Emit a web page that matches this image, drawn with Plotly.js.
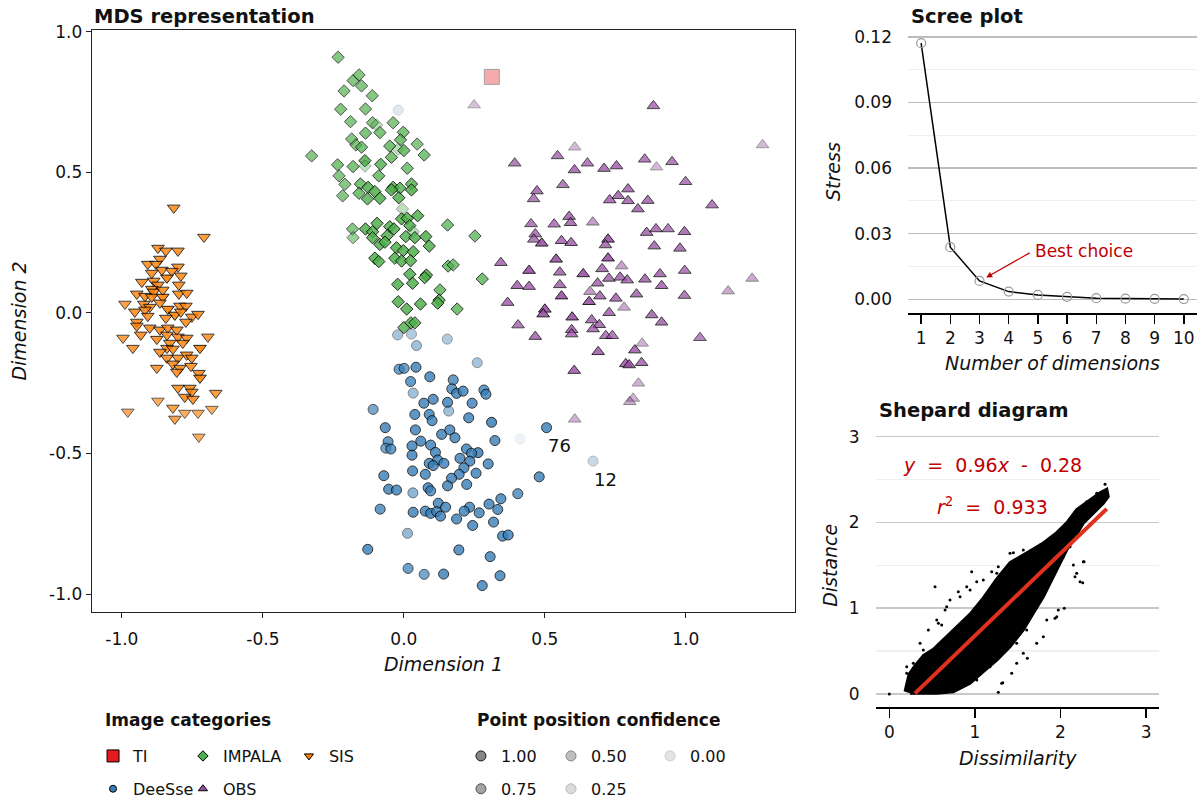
<!DOCTYPE html>
<html><head><meta charset="utf-8">
<script src="https://cdn.plot.ly/plotly-3.0.1.min.js"></script>
<style>html,body{margin:0;padding:0;background:#fff}#chart{width:1202px;height:804px}</style>
</head><body><div id="chart"></div>
<script>
// ---------- MDS representation data ----------
const categories = ['TI','DeeSse','IMPALA','OBS','SIS'];
const confLevels = [1.00, 0.75, 0.50, 0.25, 0.00];

const tiX = [0.312];
const tiY = [0.840];
const tiConf = [0.35];

const sisX = [-0.816,-0.709,-0.872,-0.844,-0.801,-0.865,-0.908,-0.879,-0.801,-0.858,
-0.823,-0.894,-0.791,-0.840,-0.929,-0.887,-0.872,-0.798,-0.894,-0.887,
-0.855,-0.798,-0.770,-0.947,-0.918,-0.894,-0.855,-0.989,-0.922,-0.901,
-0.865,-0.837,-0.794,-0.773,-0.954,-0.918,-0.812,-0.791,-0.752,-0.730,
-0.908,-0.844,-0.947,-0.947,-0.773,-0.901,-0.865,-0.837,-0.805,-0.996,
-0.933,-0.876,-0.840,-0.801,-0.770,-0.695,-0.830,-0.784,-0.961,-0.840,
-0.819,-0.723,-0.865,-0.840,-0.801,-0.770,-0.752,-0.819,-0.876,-0.794,
-0.755,-0.805,-0.727,-0.723,-0.801,-0.759,-0.752,-0.777,-0.748,-0.667,
-0.872,-0.819,-0.777,-0.730,-0.681,-0.979,-0.812,-0.727];
const sisY = [0.374,0.270,0.231,0.221,0.221,0.192,0.174,0.174,0.164,0.153,
0.149,0.142,0.132,0.125,0.110,0.114,0.100,0.100,0.085,0.075,
0.082,0.068,0.071,0.068,0.060,0.057,0.057,0.032,0.032,0.021,
0.036,0.014,0.025,0.025,0.004,0.011,-0.007,0.004,-0.014,-0.004,
-0.011,-0.018,-0.032,-0.046,-0.032,-0.053,-0.060,-0.053,-0.060,-0.089,
-0.078,-0.093,-0.078,-0.085,-0.089,-0.085,-0.107,-0.107,-0.125,-0.125,
-0.128,-0.125,-0.139,-0.160,-0.160,-0.149,-0.160,-0.181,-0.196,-0.196,
-0.189,-0.210,-0.214,-0.231,-0.267,-0.267,-0.281,-0.299,-0.306,-0.285,
-0.313,-0.338,-0.356,-0.356,-0.342,-0.352,-0.377,-0.441];
const sisConf = [0.9,0.85,0.9,0.9,0.9,0.9,0.9,0.9,0.9,0.9,
0.9,0.9,0.9,1,0.9,0.9,0.9,0.9,0.9,0.9,
0.9,0.9,0.9,0.9,0.9,0.9,1,0.8,0.9,0.9,
0.9,1,0.9,0.9,0.9,0.9,1,0.9,0.9,0.9,
0.9,0.9,0.9,0.9,0.9,0.9,0.9,0.9,0.9,0.8,
0.9,0.9,0.9,0.9,0.9,0.85,0.9,0.9,0.85,0.9,
0.9,1,0.9,0.9,0.9,0.9,0.9,0.9,0.85,0.9,
0.9,0.9,0.9,1,0.9,0.9,0.9,0.9,0.9,0.85,
0.7,0.8,0.7,0.7,0.7,0.7,0.8,0.7];

const impalaX = [-0.233,-0.180,-0.159,-0.150,-0.212,-0.112,-0.224,-0.136,-0.189,-0.111,
-0.097,-0.038,-0.136,-0.085,-0.002,-0.185,-0.170,-0.150,-0.050,-0.012,
-0.020,0.000,0.047,0.072,-0.044,-0.327,-0.235,-0.180,-0.138,-0.138,
-0.082,0.012,-0.230,-0.089,-0.209,-0.154,-0.127,-0.038,-0.014,0.027,
-0.217,-0.159,-0.129,-0.103,-0.085,-0.044,-0.018,0.027,
-0.005,0.049,-0.008,0.012,0.021,0.155,-0.095,-0.182,-0.180,-0.136,
-0.111,-0.050,-0.035,0.033,0.007,0.039,0.078,0.090,-0.111,-0.059,
-0.085,-0.067,-0.026,-0.002,0.033,-0.032,-0.008,0.024,-0.103,-0.089,
0.157,0.175,0.021,0.080,0.074,-0.022,0.031,0.128,-0.020,0.010,
0.059,0.125,0.120,0.189,0.000,0.025,0.039,0.252,0.278];
const impalaY = [0.910,0.827,0.847,0.808,0.790,0.773,0.725,0.726,0.681,0.677,
0.669,0.677,0.640,0.642,0.643,0.619,0.598,0.590,0.594,0.616,
0.583,0.578,0.601,0.562,0.554,0.559,0.527,0.521,0.542,0.523,
0.529,0.515,0.488,0.488,0.458,0.459,0.447,0.447,0.444,0.459,
0.417,0.426,0.406,0.432,0.408,0.438,0.410,0.438,
0.370,0.346,0.335,0.337,0.311,0.313,0.319,0.299,0.268,0.299,
0.289,0.307,0.299,0.289,0.272,0.268,0.272,0.238,0.268,0.275,
0.244,0.252,0.232,0.222,0.218,0.195,0.185,0.186,0.195,0.183,
0.167,0.171,0.138,0.135,0.126,0.102,0.106,0.082,0.040,0.014,
0.032,0.046,0.035,0.014,-0.052,-0.035,-0.035,0.274,0.121];
const impalaConf = [0.75,0.75,0.75,0.75,0.75,0.75,0.75,0.75,0.75,0.75,
0.35,0.75,0.8,0.8,0.8,0.75,0.75,0.8,0.85,0.85,
0.35,0.85,0.75,0.8,0.85,0.75,0.8,0.8,0.95,0.35,
0.9,0.8,0.75,0.85,0.75,0.85,0.95,0.9,0.9,0.9,
0.75,0.85,0.9,0.95,0.95,0.95,0.95,0.95,
0.35,0.95,0.95,0.95,0.95,0.8,0.95,0.75,0.6,0.95,
0.95,0.95,0.95,0.4,0.9,0.95,0.95,0.95,0.95,0.95,
0.95,0.95,0.95,0.95,0.95,0.95,0.95,0.95,0.95,0.95,
0.85,0.8,0.95,0.95,0.95,0.95,0.95,0.85,0.95,0.95,
0.95,0.95,0.95,0.85,0.9,0.9,0.9,0.8,0.85];

const obsX = [0.249,0.885,1.272,0.606,0.545,0.393,0.605,0.651,0.710,0.754,
0.854,0.896,0.951,0.999,0.564,0.472,0.460,0.795,0.760,0.730,
0.795,0.865,0.830,1.093,0.451,0.533,0.586,0.591,0.670,0.466,
0.461,0.489,0.559,0.593,0.724,0.715,0.861,0.894,0.937,0.995,
0.888,0.979,0.344,0.444,0.540,0.553,0.636,0.724,0.703,0.772,
0.727,0.767,0.792,0.855,0.908,0.914,0.996,1.235,1.150,0.402,
0.444,0.553,0.687,0.660,0.695,0.752,0.825,0.995,0.368,0.559,
0.657,0.781,0.500,0.494,0.597,0.666,0.693,0.728,0.879,0.914,
0.405,0.466,0.595,0.595,0.671,0.716,0.739,1.050,0.689,0.819,
0.845,0.604,0.787,0.799,0.843,0.832,0.813,0.801,0.606];
const obsY = [0.740,0.737,0.598,0.590,0.559,0.533,0.509,0.533,0.514,0.523,
0.547,0.519,0.538,0.467,0.456,0.434,0.406,0.441,0.417,0.402,
0.399,0.400,0.370,0.384,0.317,0.316,0.343,0.321,0.323,0.281,
0.262,0.248,0.257,0.250,0.262,0.242,0.286,0.299,0.299,0.289,
0.238,0.230,0.179,0.151,0.191,0.145,0.139,0.195,0.157,0.167,
0.123,0.127,0.117,0.120,0.139,0.097,0.151,0.123,0.078,0.097,
0.094,0.100,0.106,0.076,0.060,0.052,0.067,0.062,0.037,0.060,
0.040,0.020,0.013,-0.004,-0.015,-0.025,-0.042,0.001,-0.007,-0.033,
-0.043,-0.084,-0.060,-0.075,-0.057,-0.081,-0.081,-0.088,-0.138,-0.132,
-0.108,-0.205,-0.181,-0.185,-0.177,-0.250,-0.304,-0.316,-0.378];
const obsConf = [0.35,0.8,0.4,0.4,0.8,0.8,0.85,0.8,0.85,0.85,
0.8,0.4,0.8,0.8,0.8,0.85,0.8,0.85,0.85,0.85,
0.85,0.85,0.85,0.8,0.8,0.8,0.85,0.85,0.6,0.8,
0.8,1,0.85,0.85,1,0.85,0.85,0.85,0.8,0.85,
0.85,0.85,0.85,1,1,0.85,1,1,0.85,0.55,
0.85,0.85,0.85,0.85,0.85,0.85,0.8,0.5,0.5,0.85,
0.85,0.85,0.85,0.6,0.85,0.85,0.85,0.8,0.85,1,
1,0.5,1,1,1,0.85,0.85,0.85,0.85,0.85,
0.8,0.85,0.85,0.85,0.85,0.8,0.8,0.75,0.9,0.9,
0.45,0.9,0.9,0.9,0.85,0.45,0.45,0.5,0.45];

const deesseX = [-0.022,0.027,0.045,0.154,0.260,-0.017,0.001,0.043,0.092,0.024,
0.175,0.170,0.187,0.210,0.284,0.291,0.033,0.104,0.071,0.155,
0.242,-0.109,0.039,0.090,0.100,0.159,0.230,0.311,0.506,-0.066,
0.041,0.134,0.163,0.181,-0.056,-0.064,-0.046,0.029,0.060,0.095,
0.112,0.222,0.263,0.240,0.323,0.412,0.029,0.120,0.142,0.199,
0.234,0.090,0.104,0.213,0.299,0.671,0.031,0.076,0.196,0.256,
0.169,0.480,-0.071,0.155,0.223,0.086,0.095,-0.054,-0.026,0.032,
0.404,0.344,0.302,0.122,0.148,0.233,0.333,-0.084,0.033,0.076,
0.095,0.116,0.130,0.214,0.267,0.187,0.244,0.318,0.350,0.370,
0.013,-0.128,0.195,0.306,0.015,0.072,0.141,0.341,0.278,-0.020];
const deesseY = [-0.078,-0.075,-0.116,-0.093,-0.177,-0.200,-0.197,-0.193,-0.227,-0.244,
-0.238,-0.270,-0.286,-0.278,-0.274,-0.289,-0.285,-0.307,-0.321,-0.318,
-0.321,-0.343,-0.361,-0.361,-0.383,-0.349,-0.373,-0.389,-0.408,-0.408,
-0.416,-0.432,-0.416,-0.444,-0.458,-0.481,-0.484,-0.473,-0.456,-0.470,
-0.496,-0.484,-0.497,-0.499,-0.454,-0.449,-0.506,-0.523,-0.535,-0.517,
-0.527,-0.535,-0.543,-0.551,-0.537,-0.527,-0.562,-0.574,-0.574,-0.570,
-0.588,-0.583,-0.579,-0.615,-0.610,-0.622,-0.633,-0.627,-0.630,-0.640,
-0.643,-0.661,-0.680,-0.677,-0.691,-0.691,-0.699,-0.698,-0.709,-0.705,
-0.713,-0.707,-0.723,-0.705,-0.711,-0.733,-0.756,-0.744,-0.794,-0.790,
-0.784,-0.841,-0.843,-0.867,-0.909,-0.930,-0.929,-0.935,-0.970,0.722];
const deesseConf = [0.45,0.4,0.5,0.4,0.45,0.8,0.8,0.9,0.9,0.85,
0.85,0.85,0.9,0.9,0.85,0.9,0.5,0.9,0.9,0.9,
0.9,0.75,0.9,0.9,0.9,0.5,0.9,0.95,0.9,0.9,
0.9,0.9,0.9,0.9,0.85,0.75,0.85,0.9,0.9,0.9,
0.9,0.9,0.95,0.9,0.9,0,0.9,0.9,0.9,0.9,
0.9,0.9,0.9,0.9,0.9,0.25,0.9,0.9,0.9,0.9,
0.9,0.9,0.9,0.9,0.9,0.9,0.85,0.9,0.9,0.6,
0.85,0.9,0.9,0.9,0.9,0.9,0.9,0.85,0.9,0.9,
0.9,0.9,0.9,0.9,0.9,0.9,0.9,0.9,0.9,0.9,
0.55,0.9,0.9,0.9,0.8,0.75,0.9,0.9,0.9,0.1];

const pointLabels = ['76','12'];
const pointLabelX = [0.553, 0.716];
const pointLabelY = [-0.473, -0.591];

// ---------- Scree plot data ----------
const dims = [1,2,3,4,5,6,7,8,9,10];
const stress = [0.1171,0.0238,0.0084,0.0035,0.0020,0.0011,0.0005,0.0003,0.0002,0.0001];
const bestDim = 3;
const stressTicks = [0,0.03,0.06,0.09,0.12];

// ---------- Shepard diagram data ----------
// outline of the dense point cloud (dissimilarity, distance)
const cloudX = [0.183,0.230,0.300,0.400,0.514,0.631,0.787,0.943,1.098,1.255,1.410,1.605,1.799,1.956,2.072,2.189,2.345,2.461,2.540,
2.558,2.500,2.383,2.266,2.150,2.072,1.994,1.916,1.799,1.682,1.565,1.410,1.255,1.098,0.943,0.748,0.554,0.242];
const cloudY = [0.027,0.230,0.330,0.450,0.520,0.630,0.780,0.930,1.120,1.340,1.530,1.650,1.760,1.880,1.995,2.150,2.265,2.345,2.385,
2.300,2.223,2.106,1.990,1.795,1.678,1.523,1.367,1.134,0.941,0.746,0.551,0.396,0.260,0.125,0.027,0.008,0.008];
// scattered pairs outside the dense cloud
const outX = [0,0.534,0.962,0.709,0.670,0.573,1.273,1.325,1.430,1.612,1.839,1.956,2.044,2.259,2.275,2.189,2.150,2.520,1.410,1.255,1.098,0.943,0.826,1.605,1.488,1.176,1.021,2.033,2.111,0.359,0.456,0.203,2.169,
0.554,0.612,0.651,0.806,0.904,1.021,1.196,1.273,1.449,1.565,1.761,1.877,2.033,2.306,2.423,
1.313,1.488,1.565,1.722,1.799,1.936,1.974,2.228,2.266,0.203,0.280,0.397,0.437];
const outY = [0,1.251,1.426,1.096,1.018,0.824,0.020,0.132,0.241,0.416,0.862,0.901,0.999,1.297,1.542,1.407,1.503,2.444,1.640,1.407,1.329,1.212,1.134,0.746,0.591,0.318,0.163,1.600,1.717,0.591,0.746,0.318,1.367,
0.862,0.804,0.979,1.192,1.251,1.309,1.425,1.484,1.647,1.678,1.737,1.795,1.911,2.241,2.339,
0.125,0.358,0.474,0.591,0.668,0.882,0.979,1.309,1.542,0.241,0.358,0.513,0.435];
const fitX = [0.30, 2.54];
const fitY = [0.008, 2.158];
const eqText = ['<i>y</i>\u00a0\u00a0=\u00a0\u00a00.96<i>x</i>\u00a0\u00a0-\u00a0\u00a00.28', '<i>r</i><sup>2</sup>\u00a0\u00a0=\u00a0\u00a00.933'];
const eqX = [1.21, 1.20];
const eqY = [2.67, 2.19];

// ---------- styling ----------
const FONT = 'DejaVu Sans, sans-serif';
const RED = '#C00000';
const colors = {TI:'#E41A1C', DeeSse:'#377EB8', IMPALA:'#4DAF4A', OBS:'#984EA3', SIS:'#FF7F00'};
const symbols = {TI:'square', DeeSse:'circle', IMPALA:'diamond', OBS:'triangle-up', SIS:'triangle-down'};
const sizes = {TI:15, DeeSse:10, IMPALA:9.5, OBS:11, SIS:11};
const legSizes = {TI:12, DeeSse:7, IMPALA:8, OBS:8, SIS:8};
const alpha = c => c.map(v => 0.08 + 0.8 * v);

const series = {
  SIS:[sisX, sisY, sisConf],
  IMPALA:[impalaX, impalaY, impalaConf],
  OBS:[obsX, obsY, obsConf],
  DeeSse:[deesseX, deesseY, deesseConf],
  TI:[tiX, tiY, tiConf]
};

const traces = [];
['SIS','IMPALA','OBS','DeeSse','TI'].forEach(k => {
  const [x, y, c] = series[k];
  traces.push({type:'scatter', mode:'markers', x, y, xaxis:'x', yaxis:'y', showlegend:false, hoverinfo:'skip',
    marker:{symbol:symbols[k], size:sizes[k], color:colors[k], opacity:alpha(c), line:{color:'#000', width:1}}});
});

// legend entries: image categories (3 columns, 2 rows, column-major)
const catLegends = ['legend','legend','legend2','legend2','legend3'];
categories.forEach((k, i) => {
  traces.push({type:'scatter', mode:'markers', x:[null], y:[null], xaxis:'x', yaxis:'y', name:k,
    legend:catLegends[i], legendgroup:'c'+i, showlegend:true,
    marker:{symbol:symbols[k], size:legSizes[k], color:colors[k], line:{color:'#000', width:1}}});
});
// legend entries: point position confidence
const confLegends = ['legend4','legend4','legend5','legend5','legend6'];
confLevels.forEach((v, i) => {
  traces.push({type:'scatter', mode:'markers', x:[null], y:[null], xaxis:'x', yaxis:'y', name:v.toFixed(2),
    legend:confLegends[i], legendgroup:'p'+i, showlegend:true,
    marker:{symbol:'circle', size:10, color:'#7a7a7a', opacity:0.06 + 0.84*v, line:{color:'#000', width:1}}});
});

// scree plot
traces.push({type:'scatter', mode:'lines+markers', x:dims, y:stress, xaxis:'x2', yaxis:'y2', showlegend:false, hoverinfo:'skip',
  line:{color:'#000', width:1.5}, marker:{symbol:'circle-open', size:9, color:'#9a9a9a', line:{width:1.2}}});

// shepard diagram
traces.push({type:'scatter', mode:'lines', x:cloudX, y:cloudY, xaxis:'x3', yaxis:'y3', showlegend:false, hoverinfo:'skip',
  fill:'toself', fillcolor:'#000', line:{color:'#000', width:3}});
traces.push({type:'scatter', mode:'markers', x:outX, y:outY, xaxis:'x3', yaxis:'y3', showlegend:false, hoverinfo:'skip',
  marker:{color:'#000', size:3}});
traces.push({type:'scatter', mode:'lines', x:fitX, y:fitY, xaxis:'x3', yaxis:'y3', showlegend:false, hoverinfo:'skip',
  line:{color:'#E0301E', width:4}});

const tickFont = {family:FONT, size:17, color:'#111'};
const axTitleFont = {family:FONT, size:19, color:'#111', style:'italic'};
const mainTicks = [-1, -0.5, 0, 0.5, 1];
const mainTickText = ['-1.0','-0.5','0.0','0.5','1.0'];

function legendBox(x) {
  return {x:x, y:0.0808, xanchor:'left', yanchor:'top', orientation:'v', bgcolor:'rgba(0,0,0,0)',
    borderwidth:0, itemwidth:30, tracegroupgap:9, traceorder:'grouped', itemclick:false, itemdoubleclick:false,
    font:{family:FONT, size:16, color:'#111'}};
}

const titleFont = {family:FONT, size:19.5, color:'#111', weight:'bold'};
const legTitleFont = {family:FONT, size:17, color:'#111', weight:'bold'};

const layout = {
  width:1202, height:804, margin:{l:0, r:0, t:0, b:0, autoexpand:false},
  paper_bgcolor:'#fff', plot_bgcolor:'#fff', hovermode:false,
  font:{family:FONT, color:'#111'},
  xaxis:{domain:[0.0765,0.6614], range:[-1.106,1.387], anchor:'y', tickmode:'array', tickvals:mainTicks, ticktext:mainTickText,
    ticks:'outside', ticklen:5, tickcolor:'#222', showline:true, mirror:true, linecolor:'#222', linewidth:1.3,
    showgrid:false, zeroline:false, tickfont:tickFont, ticklabelstandoff:6, title:{text:'Dimension 1', font:axTitleFont, standoff:10}},
  yaxis:{domain:[0.2388,0.9627], range:[-1.064,1.007], anchor:'x', tickmode:'array', tickvals:mainTicks, ticktext:mainTickText,
    ticks:'outside', ticklen:5, tickcolor:'#222', showline:true, mirror:true, linecolor:'#222', linewidth:1.3,
    showgrid:false, zeroline:false, tickfont:tickFont, title:{text:'Dimension 2', font:axTitleFont, standoff:17}},
  xaxis2:{domain:[0.7554,0.9958], range:[0.55,10.45], anchor:'y2', tickmode:'array', tickvals:dims,
    ticks:'outside', ticklen:9, tickwidth:1.5, tickcolor:'#000', showline:true, linecolor:'#000', linewidth:2,
    showgrid:false, zeroline:false, tickfont:tickFont, title:{text:'Number of dimensions', font:axTitleFont, standoff:10}},
  yaxis2:{domain:[0.6111,0.9621], range:[-0.00613,0.1229], anchor:'x2', tickmode:'array', tickvals:stressTicks,
    tickformat:'.2f', ticks:'', showline:false, zeroline:false, ticklabelstandoff:15,
    showgrid:true, gridcolor:'#bdbdbd', gridwidth:1.5,
    minor:{tickvals:[0.015,0.045,0.075,0.105], showgrid:true, gridcolor:'#f0f0f0', gridwidth:1.2},
    tickfont:tickFont, title:{text:'Stress', font:axTitleFont, standoff:8}},
  xaxis3:{domain:[0.7292,0.9642], range:[-0.15,3.15], anchor:'y3', tickmode:'array', tickvals:[0,1,2,3],
    ticks:'outside', ticklen:9, tickwidth:1.5, tickcolor:'#000', showline:true, linecolor:'#000', linewidth:2,
    showgrid:false, zeroline:false, tickfont:tickFont, title:{text:'Dissimilarity', font:axTitleFont, standoff:10}},
  yaxis3:{domain:[0.1208,0.4730], range:[-0.15,3.15], anchor:'x3', tickmode:'array', tickvals:[0,1,2,3],
    ticks:'', showline:false, zeroline:false, ticklabelstandoff:16,
    showgrid:true, gridcolor:'#c8c8c8', gridwidth:1.5,
    minor:{tickvals:[0.5,1.5,2.5], showgrid:true, gridcolor:'#f0f0f0', gridwidth:1.2},
    tickfont:tickFont, title:{text:'Distance', font:axTitleFont, standoff:6}},
  legend: legendBox(0.0774),
  legend2: legendBox(0.1522),
  legend3: legendBox(0.2404),
  legend4: legendBox(0.3835),
  legend5: legendBox(0.4584),
  legend6: legendBox(0.5408),
  annotations: [
    {xref:'paper', yref:'paper', x:0.0765, y:0.980, xanchor:'left', yanchor:'middle', showarrow:false,
      text:'MDS representation', font:titleFont},
    {xref:'paper', yref:'paper', x:0.7562, y:0.979, xanchor:'left', yanchor:'middle', showarrow:false,
      text:'Scree plot', font:titleFont},
    {xref:'paper', yref:'paper', x:0.7296, y:0.490, xanchor:'left', yanchor:'middle', showarrow:false,
      text:'Shepard diagram', font:titleFont},
    {xref:'paper', yref:'paper', x:0.0857, y:0.1045, xanchor:'left', yanchor:'middle', showarrow:false,
      text:'Image categories', font:legTitleFont},
    {xref:'paper', yref:'paper', x:0.3952, y:0.1045, xanchor:'left', yanchor:'middle', showarrow:false,
      text:'Point position confidence', font:legTitleFont},
    {xref:'x2', yref:'y2', x:4.82, y:0.0222, xanchor:'left', yanchor:'middle', showarrow:false,
      text:'Best choice', font:{family:FONT, size:17, color:RED}},
    {xref:'x2', yref:'y2', x:bestDim + 0.23, y:stress[bestDim-1] + 0.0015, axref:'x2', ayref:'y2', ax:4.77, ay:0.0216,
      text:'', showarrow:true, arrowhead:2, arrowsize:1, arrowwidth:1.2, arrowcolor:RED},
  ].concat(pointLabels.map((t, i) => ({xref:'x', yref:'y', x:pointLabelX[i], y:pointLabelY[i], showarrow:false,
      text:t, font:{family:FONT, size:18, color:'#111'}})))
   .concat(eqText.map((t, i) => ({xref:'x3', yref:'y3', x:eqX[i], y:eqY[i], showarrow:false,
      text:t, font:{family:FONT, size:19, color:RED}})))
};

Plotly.newPlot('chart', traces, layout, {displayModeBar:false, staticPlot:true});
</script></body></html>
